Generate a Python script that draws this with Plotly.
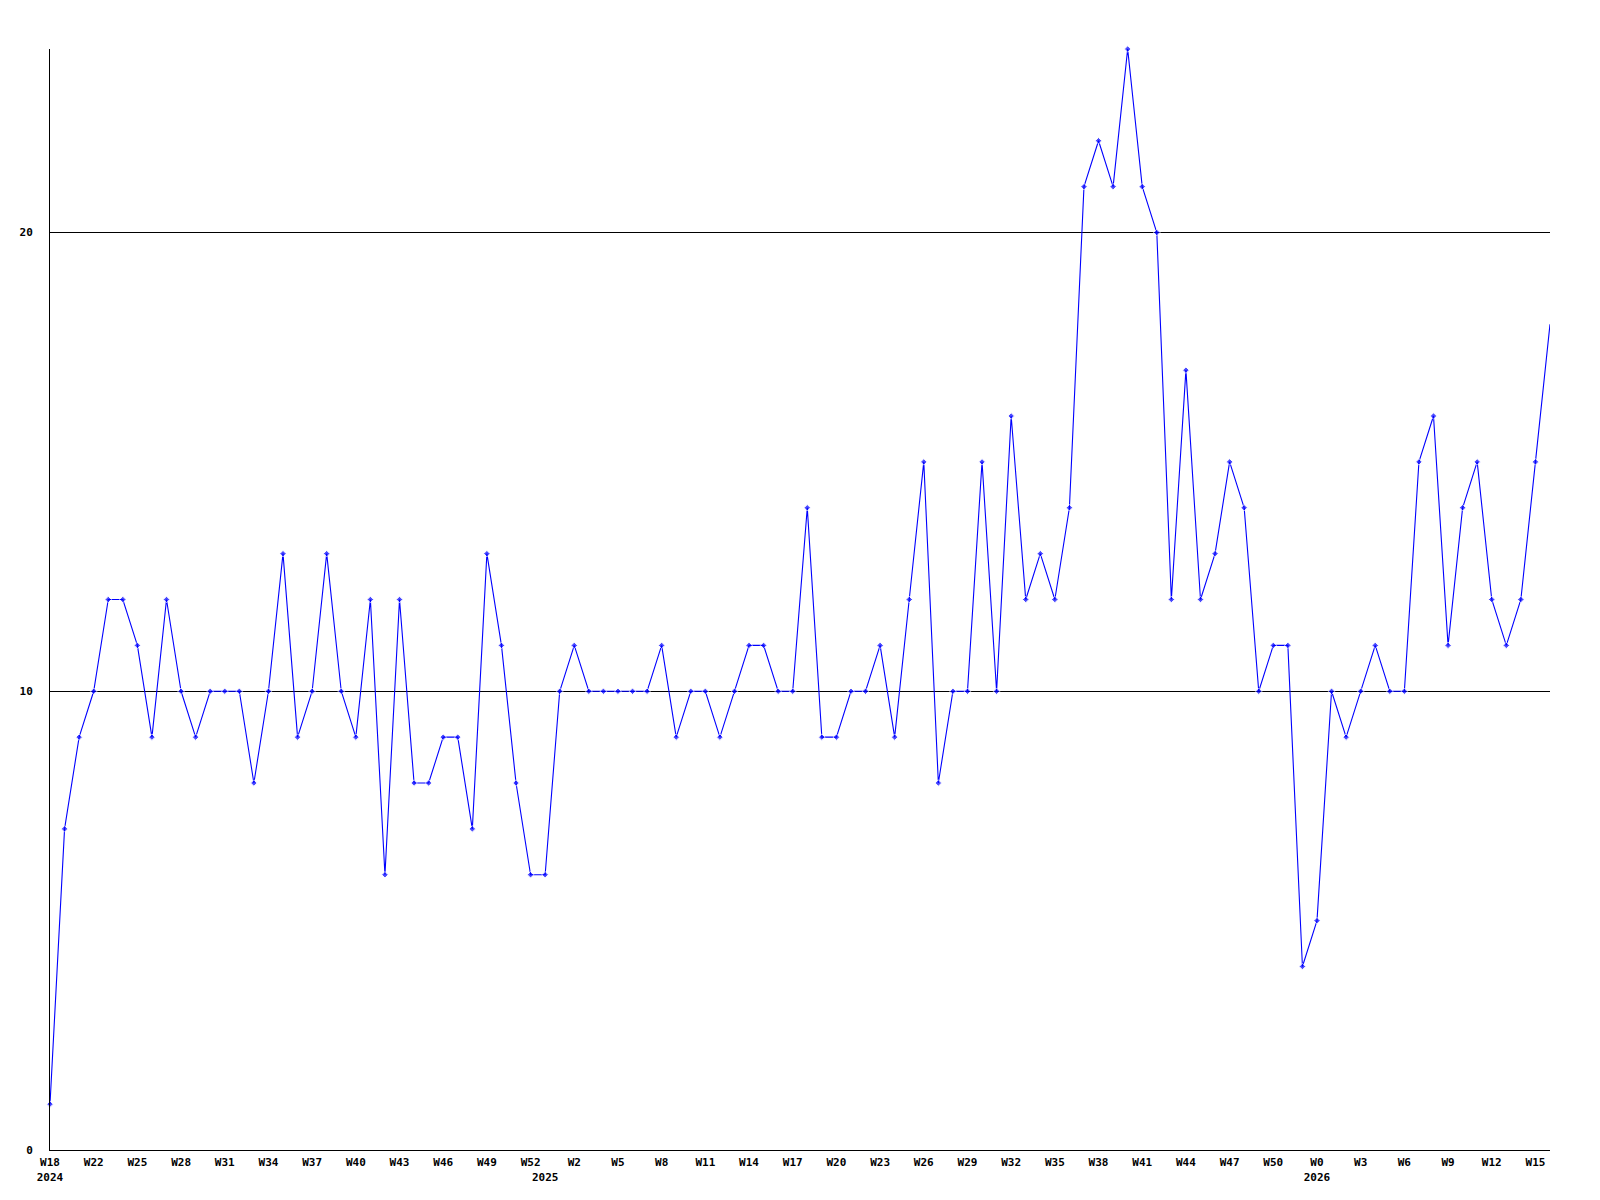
import plotly.graph_objects as go

values = [1, 7, 9, 10, 12, 12, 11, 9, 12, 10, 9, 10, 10, 10, 8, 10, 13, 9, 10, 13,
          10, 9, 12, 6, 12, 8, 8, 9, 9, 7, 13, 11, 8, 6, 6, 10, 11, 10, 10, 10,
          10, 10, 11, 9, 10, 10, 9, 10, 11, 11, 10, 10, 14, 9, 9, 10, 10, 11, 9, 12,
          15, 8, 10, 10, 15, 10, 16, 12, 13, 12, 14, 21, 22, 21, 24, 21, 20, 12, 17, 12,
          13, 15, 14, 10, 11, 11, 4, 5, 10, 9, 10, 11, 10, 10, 15, 16, 11, 14, 15, 12,
          11, 12, 15, 18]

tick_positions = [0, 3, 6, 9, 12, 15, 18, 21, 24, 27, 30, 33, 34, 36, 39, 42, 45, 48, 51,
                  54, 57, 60, 63, 66, 69, 72, 75, 78, 81, 84, 87, 90, 93, 96, 99, 102]
tick_labels = ["W18<br>2024", "W22", "W25", "W28", "W31", "W34", "W37", "W40", "W43",
               "W46", "W49", "W52", "<br>2025", "W2", "W5", "W8", "W11", "W14", "W17",
               "W20", "W23", "W26", "W29", "W32", "W35", "W38", "W41", "W44", "W47",
               "W50", "W0<br>2026", "W3", "W6", "W9", "W12", "W15"]
y_ticks = [0, 10, 20]

x = list(range(len(values)))
sizes = [5] * len(values)
sizes[-1] = 0

fig = go.Figure()
fig.add_trace(go.Scatter(
    x=x, y=values, mode="lines+markers",
    line=dict(color="#0000ff", width=1.1),
    marker=dict(symbol="diamond", size=sizes, color="#0000ff"),
    cliponaxis=False,
    hoverinfo="x+y",
))

mono = "DejaVu Sans Mono"
fig.update_layout(
    width=1600, height=1200,
    margin=dict(l=42, r=58, t=41, b=58),
    paper_bgcolor="white", plot_bgcolor="white",
    showlegend=False,
    font=dict(family=mono, size=11, color="black"),
    xaxis=dict(
        range=[0, len(values) - 1],
        tickmode="array", tickvals=tick_positions, ticktext=tick_labels,
        showgrid=False, zeroline=False,
        showline=True, linecolor="black", linewidth=1,
        ticks="", ticklabelstandoff=2,
        tickfont=dict(family=mono, size=11, color="black", weight="bold"),
        tickangle=0,
    ),
    yaxis=dict(
        range=[0, 24],
        tickmode="array", tickvals=y_ticks, ticktext=[str(v) for v in y_ticks],
        showgrid=True, gridcolor="black", gridwidth=1,
        zeroline=False,
        showline=True, linecolor="black", linewidth=1,
        ticks="", ticklabelstandoff=14,
        tickfont=dict(family=mono, size=11, color="black", weight="bold"),
    ),
)

fig.write_html("out.html")
